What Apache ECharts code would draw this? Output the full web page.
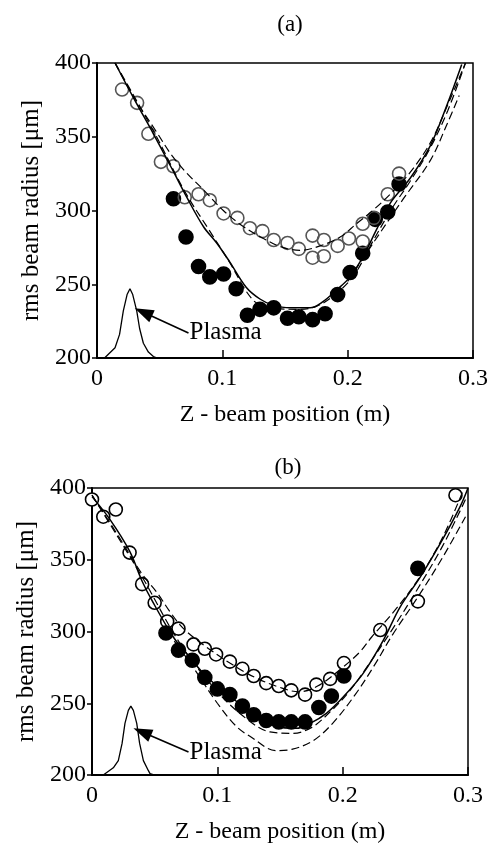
<!DOCTYPE html>
<head>
    <meta charset="utf-8">
    <title>rms beam radius</title>
    <script src="https://cdn.jsdelivr.net/npm/echarts@6/dist/echarts.min.js"></script>
    <style>
        html, body { margin: 0; padding: 0; background: #fff; }
        #chart { width: 493px; height: 850px; }
    </style>
</head>
<body>
    <div id="chart"></div>
    <script>
        // panel (a) data, [z (m), radius (um)]
        var openA = [[0.020,382],[0.032,373],[0.041,352],[0.051,333],[0.061,330],[0.070,309],[0.081,311],[0.090,307],
            [0.101,298],[0.112,295],[0.122,288],[0.132,286],[0.141,280],[0.152,278],[0.161,274],[0.172,283],[0.172,268],
            [0.181,280],[0.181,269],[0.192,276],[0.201,281],[0.212,279],[0.212,291],[0.221,295],[0.232,311],[0.241,325]];
        var filledA = [[0.061,308],[0.071,282],[0.081,262],[0.090,255],[0.101,257],[0.111,247],[0.120,229],[0.130,233],
            [0.141,234],[0.152,227],[0.161,228],[0.172,226],[0.182,230],[0.192,243],[0.202,258],[0.212,271],[0.222,294],
            [0.232,299],[0.241,318]];
        var solidA = [[0.0144,400],[0.03,375],[0.045,352],[0.06,328],[0.0716,309],[0.085,289],[0.0955,278],[0.106,265],
            [0.119,248],[0.130,240],[0.14,236],[0.154,234],[0.17,234],[0.18,238],[0.191,246],[0.202,255],[0.2125,269],
            [0.223,287],[0.234,305],[0.25,322],[0.266,344],[0.279,371],[0.291,399]];
        var dashA1 = [[0.0144,400],[0.03,376],[0.0477,353],[0.06,337],[0.072,325],[0.085,314],[0.1008,300],[0.117,289],
            [0.1328,281],[0.148,275],[0.162,273],[0.178,276],[0.194,282],[0.207,291],[0.22,300],[0.235,312],[0.25,326],
            [0.266,346],[0.28,372],[0.294,400]];
        var dashA2 = [[0.0144,400],[0.045,354],[0.07,313],[0.09,286],[0.105,266],[0.1248,239],[0.14,234],[0.16,233],
            [0.175,235],[0.19,243],[0.205,256],[0.22,279],[0.235,301],[0.25,320],[0.265,341],[0.28,368],[0.294,400]];
        var dashA3 = [[0.2,252],[0.222,280],[0.2445,308],[0.266,334],[0.279,358],[0.289,378]];
        var plasmaA = [[0,200],[0.006,200],[0.0144,207],[0.018,216],[0.021,232],[0.024,243],[0.0263,247],[0.0285,243],
            [0.0317,232],[0.034,220],[0.037,210],[0.041,204],[0.045,201],[0.048,200]];
        var arrowA = [[0.073,217],[0.037,231]];

        // panel (b) data
        var openB = [[0.000,392],[0.009,380],[0.019,385],[0.030,355],[0.040,333],[0.050,320],[0.060,307],[0.069,302],
            [0.081,291],[0.090,288],[0.099,284],[0.110,279],[0.120,274],[0.129,269],[0.139,264],[0.149,262],[0.159,259],
            [0.170,256],[0.179,263],[0.190,267],[0.201,278],[0.230,301],[0.260,321],[0.290,395]];
        var filledB = [[0.059,299],[0.069,287],[0.080,280],[0.090,268],[0.100,260],[0.110,256],[0.120,248],[0.129,242],
            [0.139,238],[0.149,237],[0.159,237],[0.170,237],[0.181,247],[0.191,255],[0.201,269],[0.260,344]];
        var solidB = [[0,394],[0.0144,378],[0.03,356],[0.04,335],[0.0476,322],[0.065,296],[0.078,282],[0.0915,268.5],
            [0.11,255],[0.131,241],[0.147,234],[0.163,232.5],[0.174,236],[0.187,243],[0.2006,254.5],[0.2165,271],
            [0.2325,294],[0.2458,317],[0.262,338],[0.2777,361],[0.2937,387],[0.3,400]];
        var dashB1 = [[0,395],[0.02,368],[0.04,340],[0.052,327],[0.062,314],[0.073,302],[0.09,290],[0.11,278],[0.13,268],
            [0.15,261],[0.165,258],[0.18,262],[0.2,275],[0.214,286],[0.223,296],[0.24,313],[0.26,336],[0.28,366],[0.296,398]];
        var dashB2 = [[0,395],[0.04,338],[0.07,292],[0.1,258],[0.125,238],[0.142,230],[0.16,229],[0.175,233],[0.19,244],
            [0.205,258],[0.22,276],[0.24,302],[0.26,330],[0.28,360],[0.298,392]];
        var dashB3 = [[0.06,300],[0.08,276],[0.1,250],[0.115,234],[0.126,227],[0.147,217],[0.16,218],[0.1766,224],
            [0.192,236],[0.21,256],[0.225,276],[0.24,298],[0.26,324],[0.28,352],[0.298,380]];
        var plasmaB = [[0,200],[0.009,200],[0.017,205],[0.021,210],[0.024,222],[0.0263,236],[0.029,245],[0.031,248],
            [0.033,245],[0.0357,236],[0.038,222],[0.041,210],[0.045,203],[0.0463,201],[0.05,200],[0.068,200]];
        var arrowB = [[0.077,216],[0.040,230]];

        var xTicks = [0, 0.1, 0.2, 0.3];
        var yTicks = [200, 250, 300, 350, 400];
        var plasmaText = 'Plasma';

        var font = 'Liberation Serif';

        function xAxis(idx){
            return {
                gridIndex: idx, type: 'value', min: xTicks[0], max: xTicks[xTicks.length - 1], interval: 0.1,
                name: 'Z - beam position (m)', nameLocation: 'middle', nameGap: 45,
                nameTextStyle: {color: '#000', fontSize: 24, fontFamily: font},
                axisLine: {lineStyle: {color: '#000', width: 2}},
                axisTick: {inside: true, length: 8, lineStyle: {color: '#000', width: 1.5}},
                axisLabel: {color: '#000', fontSize: 24, fontFamily: font, margin: 9,
                    formatter: function(v){ return v === 0 ? '0' : v.toFixed(1); }},
                splitLine: {show: false}
            };
        }
        function yAxis(idx){
            return {
                gridIndex: idx, type: 'value', min: yTicks[0], max: yTicks[yTicks.length - 1], interval: 50,
                name: 'rms beam radius [\u03bcm]', nameLocation: 'middle', nameGap: 52,
                nameTextStyle: {color: '#000', fontSize: 25, fontFamily: font},
                axisLine: {lineStyle: {color: '#000', width: 2}},
                axisTick: {inside: false, length: 5, lineStyle: {color: '#000', width: 1.5}},
                axisLabel: {color: '#000', fontSize: 24, fontFamily: font, margin: 6},
                splitLine: {show: false}
            };
        }
        function curve(idx, data, dashed){
            return {
                type: 'line', xAxisIndex: idx, yAxisIndex: idx, data: data, smooth: 0.35,
                symbol: 'none', silent: true,
                lineStyle: {color: '#000', width: dashed ? 1.2 : 1.5, type: dashed ? [8, 4] : 'solid'}
            };
        }
        function plasma(idx, data, arrow){
            return {
                type: 'line', xAxisIndex: idx, yAxisIndex: idx, data: data, symbol: 'none', silent: true,
                lineStyle: {color: '#000', width: 1.3},
                markLine: {
                    silent: true, symbol: ['none', 'triangle'], symbolSize: [13, 19],
                    lineStyle: {color: '#000', type: 'solid', width: 1.6},
                    itemStyle: {color: '#000'},
                    label: {show: false},
                    data: [[{coord: arrow[0]}, {coord: arrow[1]}]]
                }
            };
        }
        function label(idx, point){
            return {
                type: 'scatter', xAxisIndex: idx, yAxisIndex: idx, data: [point], symbolSize: 0, silent: true,
                itemStyle: {opacity: 1, color: '#000'},
                label: {show: true, position: 'right', distance: 1, formatter: plasmaText,
                    color: '#000', fontSize: 25, fontFamily: font}
            };
        }
        function dots(idx, data, fill, border, size){
            return {
                type: 'scatter', xAxisIndex: idx, yAxisIndex: idx, data: data, symbol: 'circle', symbolSize: size,
                silent: true,
                itemStyle: {color: fill, borderColor: border, borderWidth: 1.6, opacity: 1}
            };
        }

        var myChart = echarts.init(document.getElementById('chart'));
        var option = {
            backgroundColor: '#fff',
            animation: false,
            textStyle: {fontFamily: font},
            title: [
                {text: '(a)', left: 285, top: 8, textAlign: 'center',
                    textStyle: {color: '#000', fontSize: 23, fontWeight: 'normal', fontFamily: font}},
                {text: '(b)', left: 283, top: 451, textAlign: 'center',
                    textStyle: {color: '#000', fontSize: 23, fontWeight: 'normal', fontFamily: font}}
            ],
            grid: [
                {left: 97, top: 63, width: 376, height: 295, show: true, borderColor: '#000', borderWidth: 1.5},
                {left: 92, top: 488, width: 376, height: 287, show: true, borderColor: '#000', borderWidth: 1.5}
            ],
            xAxis: [xAxis(0), xAxis(1)],
            yAxis: [yAxis(0), yAxis(1)],
            series: [
                curve(0, solidA, false),
                curve(0, dashA1, true),
                curve(0, dashA2, true),
                curve(0, dashA3, true),
                plasma(0, plasmaA, arrowA),
                label(0, arrowA[0]),
                dots(0, filledA, '#000', '#000', 14),
                dots(0, openA, 'rgba(255,255,255,0)', '#555', 13),

                curve(1, solidB, false),
                curve(1, dashB1, true),
                curve(1, dashB2, true),
                curve(1, dashB3, true),
                plasma(1, plasmaB, arrowB),
                label(1, arrowB[0]),
                dots(1, openB, '#fff', '#000', 13),
                dots(1, filledB, '#000', '#000', 14)
            ]
        };
        myChart.setOption(option);
    </script>
</body>
